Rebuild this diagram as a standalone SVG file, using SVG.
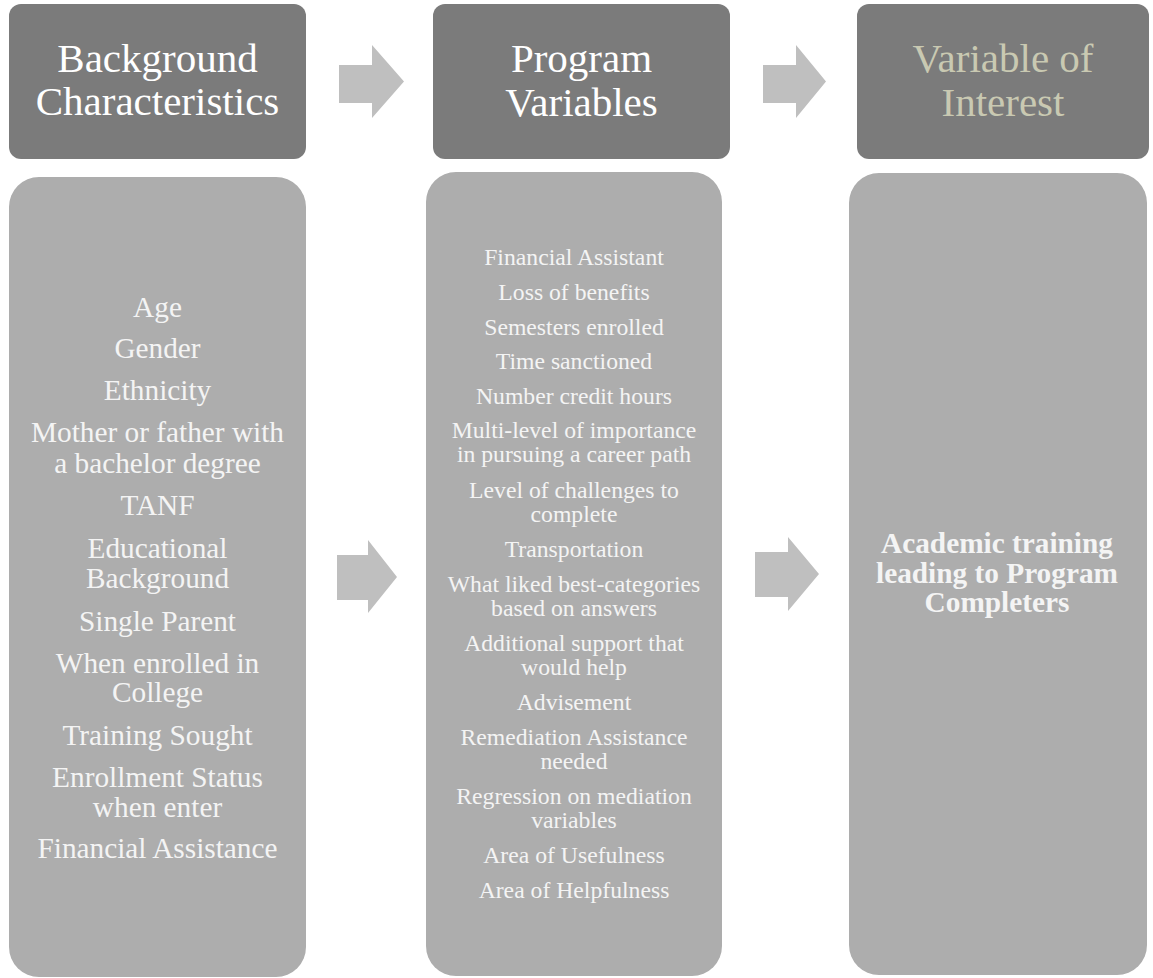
<svg xmlns="http://www.w3.org/2000/svg" width="1153" height="978" viewBox="0 0 1153 978">
<style>
.hdr{fill:#7b7b7b}
.body{fill:#adadad}
.arr{fill:#bfbfbf}
.ht{font-family:"Liberation Serif","Times New Roman",serif;font-size:41px;fill:#ffffff;text-anchor:middle}
.ht3{fill:#c9c9b2}
.lt{font-family:"Liberation Serif","Times New Roman",serif;font-size:29.3px;fill:#f4f4f4;text-anchor:middle}
.mt{font-family:"Liberation Serif","Times New Roman",serif;font-size:23.7px;fill:#f4f4f4;text-anchor:middle}
.rt{font-family:"Liberation Serif","Times New Roman",serif;font-size:29.3px;font-weight:bold;fill:#f4f4f4;text-anchor:middle}
</style>
<rect width="1153" height="978" fill="#ffffff"/>
<g id="header-background">
<rect class="hdr" x="9" y="4" width="297" height="155" rx="12"/>
<text class="ht" x="157.5" y="72">Background</text>
<text class="ht" x="157.5" y="115">Characteristics</text>
</g>
<g id="header-program">
<rect class="hdr" x="433" y="4" width="297" height="155" rx="12"/>
<text class="ht" x="581.5" y="72">Program</text>
<text class="ht" x="581.5" y="116">Variables</text>
</g>
<g id="header-interest">
<rect class="hdr" x="857" y="4" width="292" height="155" rx="12"/>
<text class="ht ht3" x="1003" y="72">Variable of</text>
<text class="ht ht3" x="1003" y="116">Interest</text>
</g>
<g id="body-background">
<rect class="body" x="9" y="177" width="297" height="800" rx="30"/>
<text class="lt" x="157.5" y="317">Age</text>
<text class="lt" x="157.5" y="358">Gender</text>
<text class="lt" x="157.5" y="400">Ethnicity</text>
<text class="lt" x="157.5" y="442">Mother or father with</text>
<text class="lt" x="157.5" y="473">a bachelor degree</text>
<text class="lt" x="157.5" y="515">TANF</text>
<text class="lt" x="157.5" y="558">Educational</text>
<text class="lt" x="157.5" y="588">Background</text>
<text class="lt" x="157.5" y="631">Single Parent</text>
<text class="lt" x="157.5" y="673">When enrolled in</text>
<text class="lt" x="157.5" y="702">College</text>
<text class="lt" x="157.5" y="745">Training Sought</text>
<text class="lt" x="157.5" y="787">Enrollment Status</text>
<text class="lt" x="157.5" y="817">when enter</text>
<text class="lt" x="157.5" y="858">Financial Assistance</text>
</g>
<g id="body-program">
<rect class="body" x="426" y="172" width="296" height="804" rx="30"/>
<text class="mt" x="574" y="265">Financial Assistant</text>
<text class="mt" x="574" y="300">Loss of benefits</text>
<text class="mt" x="574" y="335">Semesters enrolled</text>
<text class="mt" x="574" y="369">Time sanctioned</text>
<text class="mt" x="574" y="404">Number credit hours</text>
<text class="mt" x="574" y="438">Multi-level of importance</text>
<text class="mt" x="574" y="462">in pursuing a career path</text>
<text class="mt" x="574" y="498">Level of challenges to</text>
<text class="mt" x="574" y="522">complete</text>
<text class="mt" x="574" y="557">Transportation</text>
<text class="mt" x="574" y="592">What liked best-categories</text>
<text class="mt" x="574" y="616">based on answers</text>
<text class="mt" x="574" y="651">Additional support that</text>
<text class="mt" x="574" y="675">would help</text>
<text class="mt" x="574" y="710">Advisement</text>
<text class="mt" x="574" y="745">Remediation Assistance</text>
<text class="mt" x="574" y="769">needed</text>
<text class="mt" x="574" y="804">Regression on mediation</text>
<text class="mt" x="574" y="828">variables</text>
<text class="mt" x="574" y="863">Area of Usefulness</text>
<text class="mt" x="574" y="898">Area of Helpfulness</text>
</g>
<g id="body-interest">
<rect class="body" x="849" y="173" width="298" height="802" rx="30"/>
<text class="rt" x="997" y="553">Academic training</text>
<text class="rt" x="997" y="583">leading to Program</text>
<text class="rt" x="997" y="612">Completers</text>
</g>
<g id="connectors">
<polygon class="arr" points="339,65 372,65 372,45 404,81.5 372,118 372,103 339,103"/>
<polygon class="arr" points="763,65 796,65 796,45 826,81.5 796,118 796,103 763,103"/>
<polygon class="arr" points="337,555 368,555 368,540 397,577 368,613 368,600 337,600"/>
<polygon class="arr" points="755,552 788,552 788,537 819,574 788,611 788,597 755,597"/>
</g>
</svg>
